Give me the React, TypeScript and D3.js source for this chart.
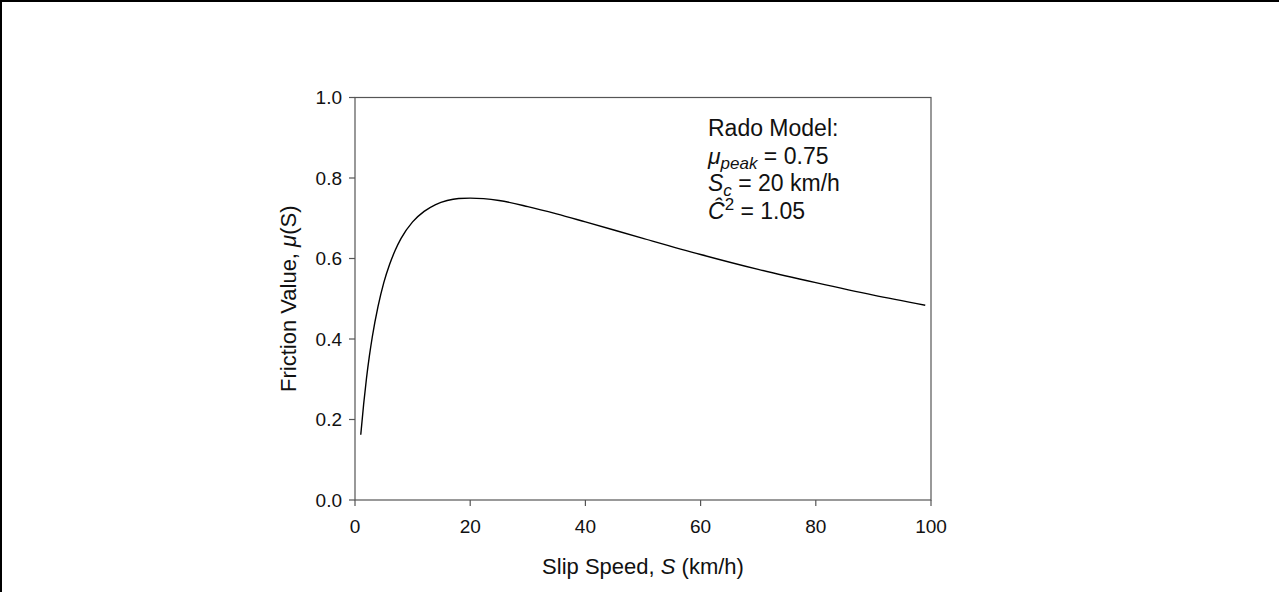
import React from "react";
import * as d3 from "d3";

// Slip speed S (km/h) and friction value mu(S)
const slipSpeed = [1, 1.5, 2, 2.5, 3, 4, 5, 6, 7, 8, 10, 12, 14, 16, 18, 20, 25, 30, 35, 40, 50, 60, 70, 80, 90, 99];
const frictionValue = [0.162, 0.238, 0.303, 0.358, 0.405, 0.481, 0.54, 0.585, 0.621, 0.65, 0.691, 0.717, 0.734, 0.744, 0.749, 0.75, 0.744, 0.729, 0.711, 0.691, 0.65, 0.61, 0.573, 0.54, 0.509, 0.484];
const xTicks = [0, 20, 40, 60, 80, 100];
const yTicks = [0.0, 0.2, 0.4, 0.6, 0.8, 1.0];

const W = 1279;
const H = 592;
const plot = { left: 355, right: 931, top: 97.5, bottom: 500 };
const FONT = "Arial, 'Liberation Sans', Helvetica, sans-serif";
const AXIS = "#555";

export default function App() {
  const x = d3.scaleLinear().domain([0, 100]).range([plot.left, plot.right]);
  const y = d3.scaleLinear().domain([0, 1]).range([plot.bottom, plot.top]);
  const pts: [number, number][] = slipSpeed.map((s, i) => [s, frictionValue[i]]);
  const line = d3
    .line<[number, number]>()
    .x((d) => x(d[0]))
    .y((d) => y(d[1]))
    .curve(d3.curveMonotoneX);

  return (
    <div style={{ position: "absolute", left: 0, top: 0 }}>
      <svg width={W} height={H} style={{ display: "block", fontFamily: FONT }}>
        <rect x={0} y={0} width={W} height={H} fill="#fff" />
        <line x1={0} y1={1} x2={W} y2={1} stroke="#000" strokeWidth={2} />
        <line x1={1} y1={0} x2={1} y2={H} stroke="#000" strokeWidth={2} />

        {/* plot frame */}
        <rect
          x={plot.left}
          y={plot.top}
          width={plot.right - plot.left}
          height={plot.bottom - plot.top}
          fill="none"
          stroke={AXIS}
          strokeWidth={1.2}
        />

        {/* x ticks */}
        {xTicks.map((t) => (
          <g key={"x" + t}>
            <line x1={x(t)} x2={x(t)} y1={plot.bottom} y2={plot.bottom + 6} stroke={AXIS} strokeWidth={1.2} />
            <text x={x(t)} y={533} textAnchor="middle" fontSize={19} fill="#111">
              {t}
            </text>
          </g>
        ))}

        {/* y ticks */}
        {yTicks.map((t) => (
          <g key={"y" + t}>
            <line x1={plot.left - 6} x2={plot.left} y1={y(t)} y2={y(t)} stroke={AXIS} strokeWidth={1.2} />
            <text x={342} y={y(t)} dy="0.35em" textAnchor="end" fontSize={19} fill="#111">
              {t.toFixed(1)}
            </text>
          </g>
        ))}

        {/* curve */}
        <path d={line(pts) || ""} fill="none" stroke="#000" strokeWidth={1.4} />

        {/* axis titles */}
        <text x={(plot.left + plot.right) / 2} y={574} textAnchor="middle" fontSize={22} fill="#111">
          Slip Speed, <tspan fontStyle="italic">S</tspan> (km/h)
        </text>
        <text
          transform={`translate(296, ${(plot.top + plot.bottom) / 2}) rotate(-90)`}
          textAnchor="middle"
          fontSize={22}
          fill="#111"
        >
          Friction Value, <tspan fontStyle="italic">μ</tspan>(S)
        </text>

        {/* annotation */}
        <g fontSize={23} fill="#111">
          <text x={708} y={136}>Rado Model:</text>
          <text x={708} y={163.5}>
            <tspan fontStyle="italic">μ</tspan>
            <tspan fontStyle="italic" fontSize={17} dy={5}>peak</tspan>
            <tspan dy={-5}> = 0.75</tspan>
          </text>
          <text x={708} y={191}>
            <tspan fontStyle="italic">S</tspan>
            <tspan fontStyle="italic" fontSize={17} dy={5}>c</tspan>
            <tspan dy={-5}> = 20 km/h</tspan>
          </text>
          <text x={708} y={218.5}>
            <tspan fontStyle="italic">Ĉ</tspan>
            <tspan fontSize={17} dy={-9}>2</tspan>
            <tspan dy={9}> = 1.05</tspan>
          </text>
        </g>
      </svg>
    </div>
  );
}
